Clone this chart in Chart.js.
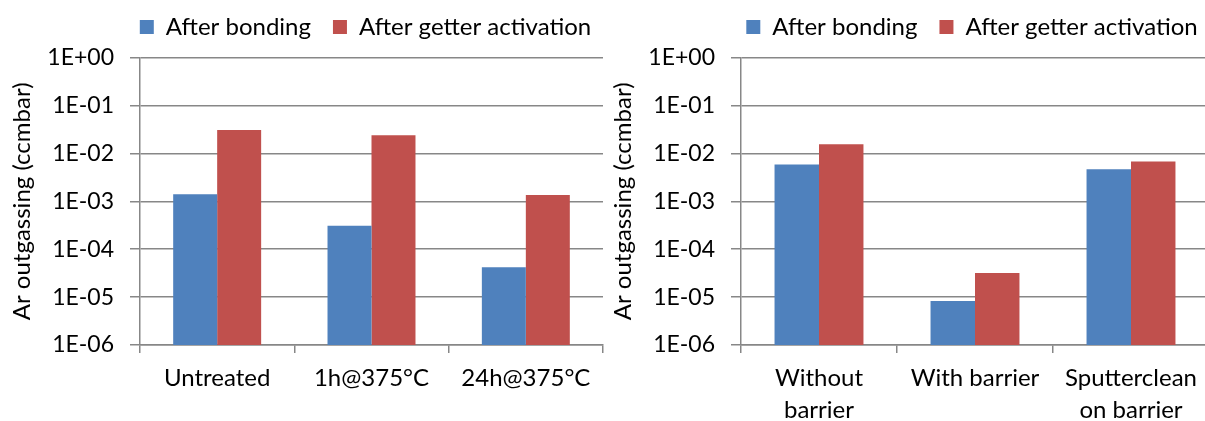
<!DOCTYPE html>
<html>
<head>
<meta charset="utf-8">
<script src="https://cdn.jsdelivr.net/npm/chart.js@4/dist/chart.umd.min.js"></script>
<style>
  html, body { margin: 0; padding: 0; background: #fff; width: 1205px; height: 421px; overflow: hidden; }
  canvas { position: absolute; top: -7px; }
  #left { left: 0; }
  #right { left: 601px; }
</style>
</head>
<body>
<canvas id="left" width="731" height="428"></canvas>
<canvas id="right" width="742" height="428"></canvas>
<script>
// data
const seriesNames = ['After bonding', 'After getter activation'];
const leftCategories = ['Untreated', '1h@375°C', '24h@375°C'];
const leftBonding = [1.4e-3, 3.1e-4, 4.2e-5];
const leftGetter = [3.1e-2, 2.4e-2, 1.35e-3];
const rightCategories = [['Without', 'barrier'], 'With barrier', ['Sputterclean', 'on barrier']];
const rightBonding = [5.9e-3, 8.3e-6, 4.7e-3];
const rightGetter = [1.55e-2, 3.2e-5, 6.8e-3];
const tickValues = [1e-6, 1e-5, 1e-4, 1e-3, 1e-2, 1e-1, 1];
const tickLabels = ['1E-06', '1E-05', '1E-04', '1E-03', '1E-02', '1E-01', '1E+00'];
const yTitle = 'Ar outgassing (ccmbar)';

const FONT = 'Lato';
const SIZE = 24;
const gridColor = '#878787';

function makeChart(id, categories, bonding, getter, rightGap) {
  const ctx = document.getElementById(id).getContext('2d');
  return new Chart(ctx, {
    type: 'bar',
    data: {
      labels: categories,
      datasets: [
        { label: seriesNames[0], data: bonding, backgroundColor: '#4F81BD', categoryPercentage: 0.57, barPercentage: 1 },
        { label: seriesNames[1], data: getter, backgroundColor: '#C0504D', categoryPercentage: 0.57, barPercentage: 1 }
      ]
    },
    options: {
      responsive: false,
      animation: false,
      layout: { padding: { top: 0, left: 0, right: 0, bottom: 0 } },
      plugins: {
        tooltip: { enabled: false },
        legend: {
          position: 'top',
          labels: {
            boxWidth: 14, boxHeight: 14, padding: 22,
            color: '#000', font: { family: FONT, size: SIZE }
          }
        },
        // empty box, only used as a gap between legend and plot
        subtitle: { display: true, text: '', weight: 500, font: { size: 1 }, padding: { top: 7.5, bottom: 0 } }
      },
      scales: {
        x: {
          type: 'category',
          offset: true,
          grid: { offset: true, drawOnChartArea: false, tickLength: 8, color: gridColor, lineWidth: 1.5 },
          border: { color: gridColor, width: 1.5 },
          ticks: { color: '#000', font: { family: FONT, size: SIZE, lineHeight: 1.3 }, padding: 10, maxRotation: 0, autoSkip: false },
          afterFit: s => { s.height = 76; }
        },
        y: {
          type: 'logarithmic',
          min: 1e-6,
          max: 1,
          afterBuildTicks: s => { s.ticks = tickValues.map(v => ({ value: v })); },
          ticks: { color: '#000', font: { family: FONT, size: 23 }, padding: 16, callback: (v, i) => tickLabels[i] },
          grid: { color: gridColor, lineWidth: 1.5, tickLength: 10 },
          border: { color: gridColor, width: 1.5 },
          title: { display: true, text: yTitle, color: '#000', font: { family: FONT, size: SIZE }, padding: { top: 8, bottom: 0 } },
          afterFit: s => { s.width = 140; }
        },
        spacer: {
          type: 'linear',
          position: 'right',
          grid: { display: false },
          border: { display: false },
          ticks: { display: false },
          afterFit: s => { s.width = rightGap; }
        }
      }
    }
  });
}

makeChart('left', leftCategories, leftBonding, leftGetter, 128);
makeChart('right', rightCategories, rightBonding, rightGetter, 134);
</script>
</body>
</html>
